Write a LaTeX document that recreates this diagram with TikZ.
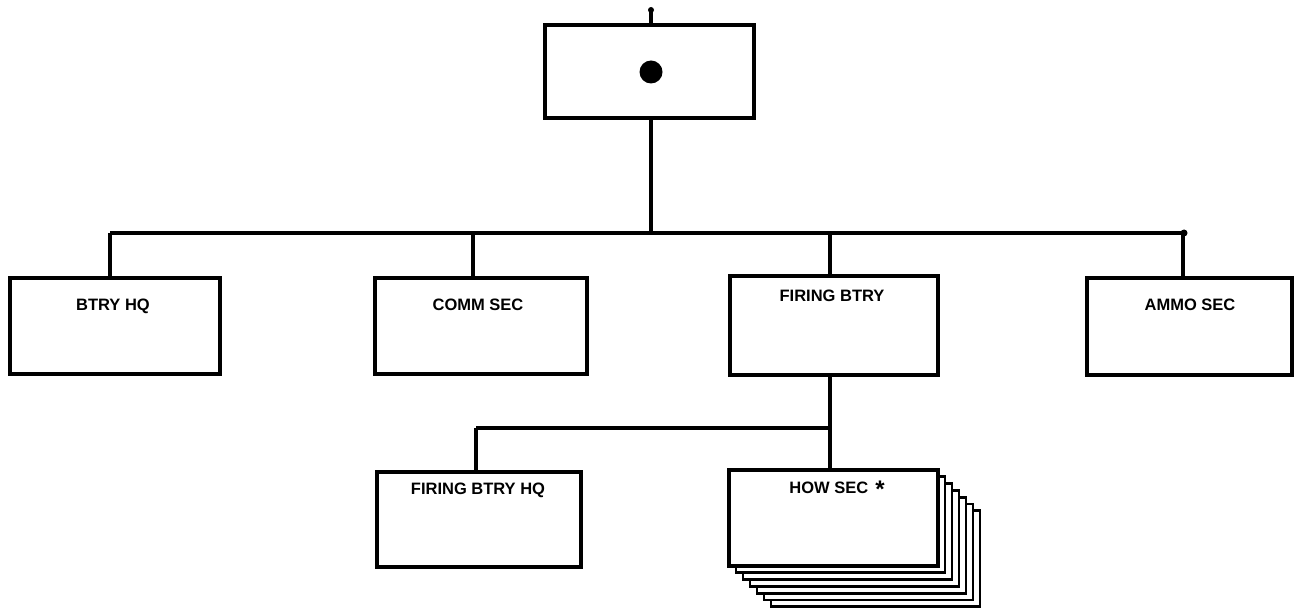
\documentclass[tikz,border=0pt]{standalone}
\usepackage{fontspec}
\setmainfont{Liberation Sans}
\begin{document}
\begin{tikzpicture}[x=1pt,y=-1pt,
  box/.style={draw, line width=3.4pt, fill=white, rectangle, inner sep=0pt},
  conn/.style={line width=3.2pt},
  lbl/.style={font=\bfseries\fontsize{16.5}{18}\selectfont, inner sep=0pt}]
\useasboundingbox (0,0) rectangle (1297,612);
% top box
\node[box, minimum width=209pt, minimum height=93pt] (top) at (649.5,71.5) {};
\fill (651,72) circle (11.5pt);
\coordinate (stub) at (651,10);
\fill (stub) circle (3pt);
\draw[conn] (stub) -- (stub |- top.north);
% main bus
\coordinate (busL) at (110,233);
\coordinate (busR) at (1184,233);
\draw[conn] (top.south -| stub) -- (stub |- busL);
\draw[conn] (busL) -- (busR);
\fill (busR) circle (3.5pt);
% second row
\node[box, minimum width=210pt, minimum height=96pt] (hq) at (115,326) {};
\node[box, minimum width=212pt, minimum height=96pt] (comm) at (481,326) {};
\node[box, minimum width=208pt, minimum height=99pt] (fb) at (834,325.5) {};
\node[box, minimum width=205pt, minimum height=97pt] (ammo) at (1189.5,326.5) {};
\node[lbl] (thq) at (113,306) {BTRY HQ};
\node[lbl] (tcomm) at (478,305) {COMM SEC};
\node[lbl] (tfb) at (832,296) {FIRING BTRY};
\node[lbl] (tammo) at (1190,305) {AMMO SEC};
\coordinate (dhq) at (110,233);
\coordinate (dcomm) at (473,233);
\coordinate (dfb) at (830,233);
\coordinate (dammo) at (1183,233);
\draw[conn] (dhq) -- (dhq |- hq.north);
\draw[conn] (dcomm) -- (dcomm |- comm.north);
\draw[conn] (dfb) -- (dfb |- fb.north);
\draw[conn] (dammo) -- (dammo |- ammo.north);
% sub bus
\coordinate (sbL) at (476,428);
\coordinate (sbR) at (830,428);
\draw[conn] (fb.south -| sbR) -- (sbR) -- (sbL);
% stacked HOW SEC copies
\foreach \i in {6,5,4,3,2,1}{
  \draw[line width=2.8pt, fill=white] (729+7*\i,470+6.8*\i) rectangle ++(209,96);
}
\node[box, minimum width=204pt, minimum height=95pt] (fbhq) at (479,519.5) {};
\node[box, minimum width=209pt, minimum height=96pt] (how) at (833.5,518) {};
\node[lbl] (tfbhq) at (478,490) {FIRING BTRY HQ};
\node[lbl] (thow) at (837,489) {HOW SEC\hspace{7pt}\raisebox{-4pt}{\fontsize{24}{24}\selectfont *}};
\draw[conn] (sbL) -- (sbL |- fbhq.north);
\draw[conn] (sbR) -- (sbR |- how.north);
\end{tikzpicture}
\end{document}
